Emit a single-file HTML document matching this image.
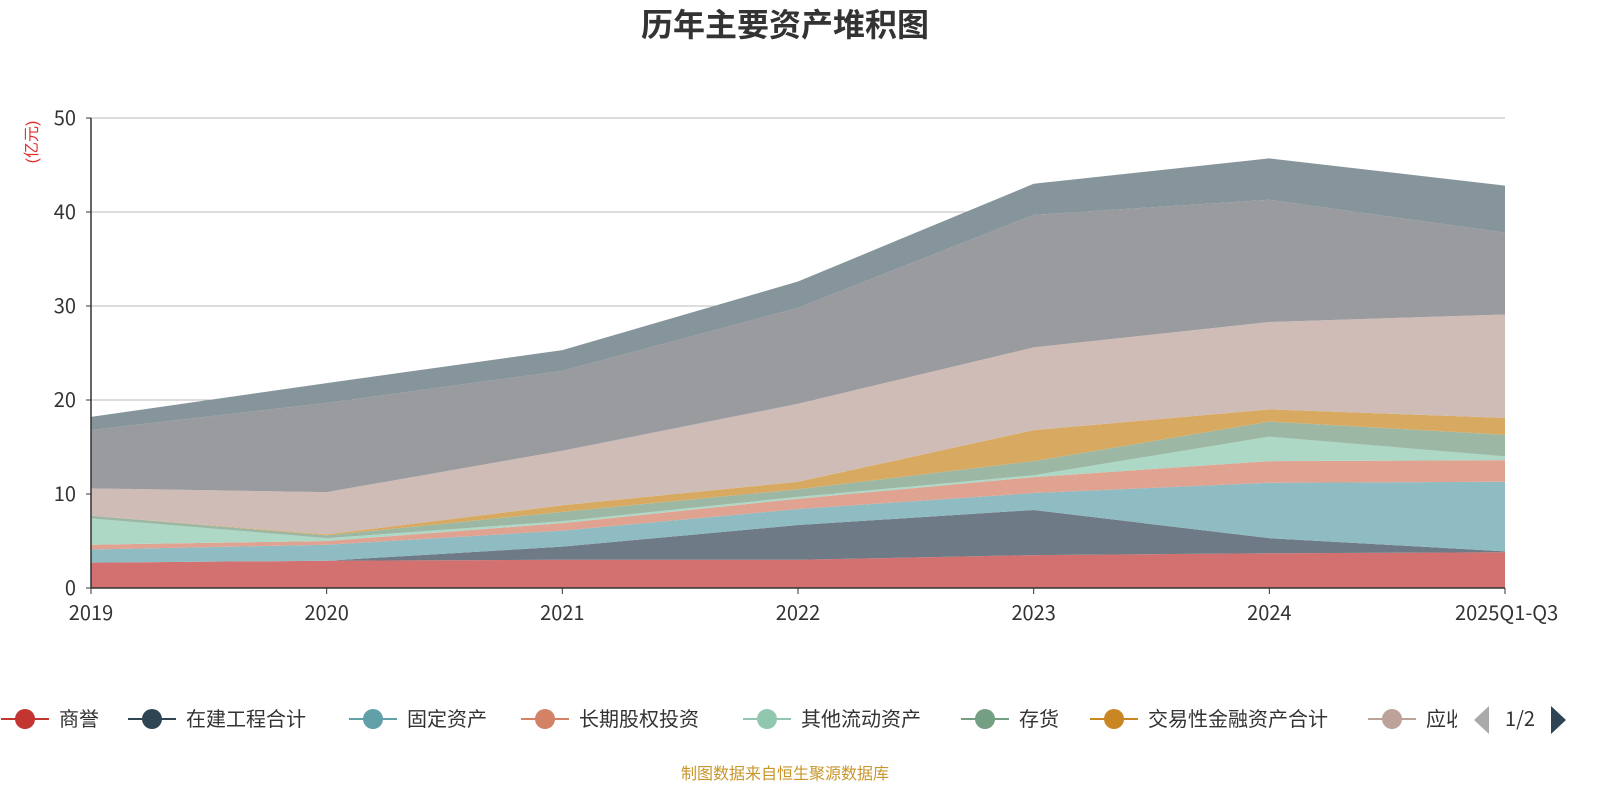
<!DOCTYPE html>
<html><head><meta charset="utf-8"><style>
body{margin:0;background:#fff;}
svg{display:block;font-family:"Liberation Sans","Noto Sans CJK SC",sans-serif;}
.lt{font-family:"Noto Sans CJK SC","Liberation Sans",sans-serif;}
</style></head><body>
<svg id="chart" width="1600" height="800">
<text x="785" y="36" text-anchor="middle" font-size="32" font-weight="bold" fill="#333">历年主要资产堆积图</text>
<text transform="translate(37,142) rotate(-90)" text-anchor="middle" font-size="16" fill="#e03030">(亿元)</text>
<g id="grid"></g><g id="areas"></g><g id="axes"></g>
<g id="legend"></g>
<text x="785" y="779" text-anchor="middle" font-size="16" fill="#c8962a">制图数据来自恒生聚源数据库</text>
</svg>
<script>
const categories=["2019","2020","2021","2022","2023","2024","2025Q1-Q3"];
const yTicks=[0,10,20,30,40,50];
const seriesNames=["商誉","在建工程合计","固定资产","长期股权投资","其他流动资产","存货","交易性金融资产合计","应收账款","货币资金","其他"];
const s0=[2.7,2.9,3.0,3.0,3.5,3.7,3.8];
const s1=[0,0,1.4,3.7,4.8,1.6,0.1];
const s2=[1.4,1.7,1.7,1.7,1.8,5.9,7.4];
const s3=[0.5,0.4,0.8,1.1,1.7,2.3,2.3];
const s4=[2.8,0.3,0.2,0.2,0.2,2.6,0.4];
const s5=[0.3,0.3,1.0,0.8,1.5,1.6,2.3];
const s6=[0,0.1,0.7,0.8,3.3,1.3,1.8];
const s7=[2.9,4.5,5.8,8.3,8.8,9.3,11.0];
const s8=[6.2,9.5,8.5,10.2,14.1,13.0,8.7];
const s9=[1.4,2.1,2.2,2.8,3.3,4.4,5.0];
const seriesValues=[s0,s1,s2,s3,s4,s5,s6,s7,s8,s9];
const fills=["#d37170","#6e7b86","#8fbbc2","#e0a392","#aed8c6","#9cb8a4","#d8aa61","#d0bcb6","#9a9b9f","#86949b"];
const legendColors=["#c23531","#2f4554","#61a0a8","#d48265","#91c7ae","#749f83","#ca8622","#bda29a"];
const NS="http://www.w3.org/2000/svg";
const X0=91,X1=1505,Y0=588,Y1=118,YMAX=50;
const xs=i=>X0+(X1-X0)*i/(categories.length-1);
const ys=v=>Y0-(Y0-Y1)*v/YMAX;
function mk(t,a,p){const e=document.createElementNS(NS,t);for(const k in a)e.setAttribute(k,a[k]);p.appendChild(e);return e;}
const grid=document.getElementById('grid'),axes=document.getElementById('axes'),areas=document.getElementById('areas'),leg=document.getElementById('legend');
yTicks.forEach(v=>{
 if(v>0){const l=mk('line',{x1:X0,x2:X1,y1:ys(v),y2:ys(v),stroke:'#bbb','stroke-width':1},grid);
 
 }
 const t=mk('text',{x:76,y:ys(v)+7,'text-anchor':'end','font-size':20,fill:'#333',class:'lt'},axes);t.textContent=v;
 
 
 mk('line',{x1:X0-5,x2:X0,y1:ys(v),y2:ys(v),stroke:'#333'},axes);
});
let cum=categories.map(()=>0);
seriesValues.forEach((vals,si)=>{
 const lo=cum.slice();cum=cum.map((c,i)=>c+vals[i]);
 let d='M'+categories.map((c,i)=>xs(i)+','+ys(cum[i])).join('L');
 for(let i=categories.length-1;i>=0;i--)d+='L'+xs(i)+','+ys(lo[i]);
 const p=mk('path',{d:d+'Z',fill:fills[si],stroke:'none'},areas);
 
 
});
mk('line',{x1:X0,x2:X0,y1:Y1,y2:Y0,stroke:'#333','stroke-width':1.5},axes);
mk('line',{x1:X0,x2:X1,y1:Y0,y2:Y0,stroke:'#333','stroke-width':1.5},axes);
categories.forEach((c,i)=>{
 mk('line',{x1:xs(i),x2:xs(i),y1:Y0,y2:Y0+6,stroke:'#333'},axes);
 const t=mk('text',{x:xs(i),y:620,'text-anchor':i==categories.length-1?'start':'middle','font-size':20,fill:'#333',class:'lt'},axes);
 if(i==categories.length-1)t.setAttribute('x',xs(i)-50);
 t.textContent=c;
 
 
});
const legX=[25,152,373,545,767,985,1114,1392];
const legLabels=["商誉","在建工程合计","固定资产","长期股权投资","其他流动资产","存货","交易性金融资产合计","应收账款"];
const clip=mk('clipPath',{id:'lc'},leg);mk('rect',{x:0,y:690,width:1457,height:60},clip);
const lg=mk('g',{'clip-path':'url(#lc)'},leg);
legLabels.forEach((n,i)=>{
 const g=mk('g',{},lg);
 
 
 mk('line',{x1:legX[i]-24,x2:legX[i]+24,y1:719,y2:719,stroke:legendColors[i],'stroke-width':2},g);
 mk('circle',{cx:legX[i],cy:719,r:10,fill:legendColors[i]},g);
 const t=mk('text',{x:legX[i]+34,y:726,'font-size':20,fill:'#333',class:'lt'},g);t.textContent=n;
});
const pl=mk('path',{d:'M1489,706 L1489,734 L1474,720 Z',fill:'#aaa'},leg);


const pt=mk('text',{x:1520,y:726,'text-anchor':'middle','font-size':20,fill:'#333',class:'lt'},leg);pt.textContent='1/2';


const pr=mk('path',{d:'M1551,706 L1551,734 L1566,720 Z',fill:'#2f4554'},leg);


</script>
</body></html>
